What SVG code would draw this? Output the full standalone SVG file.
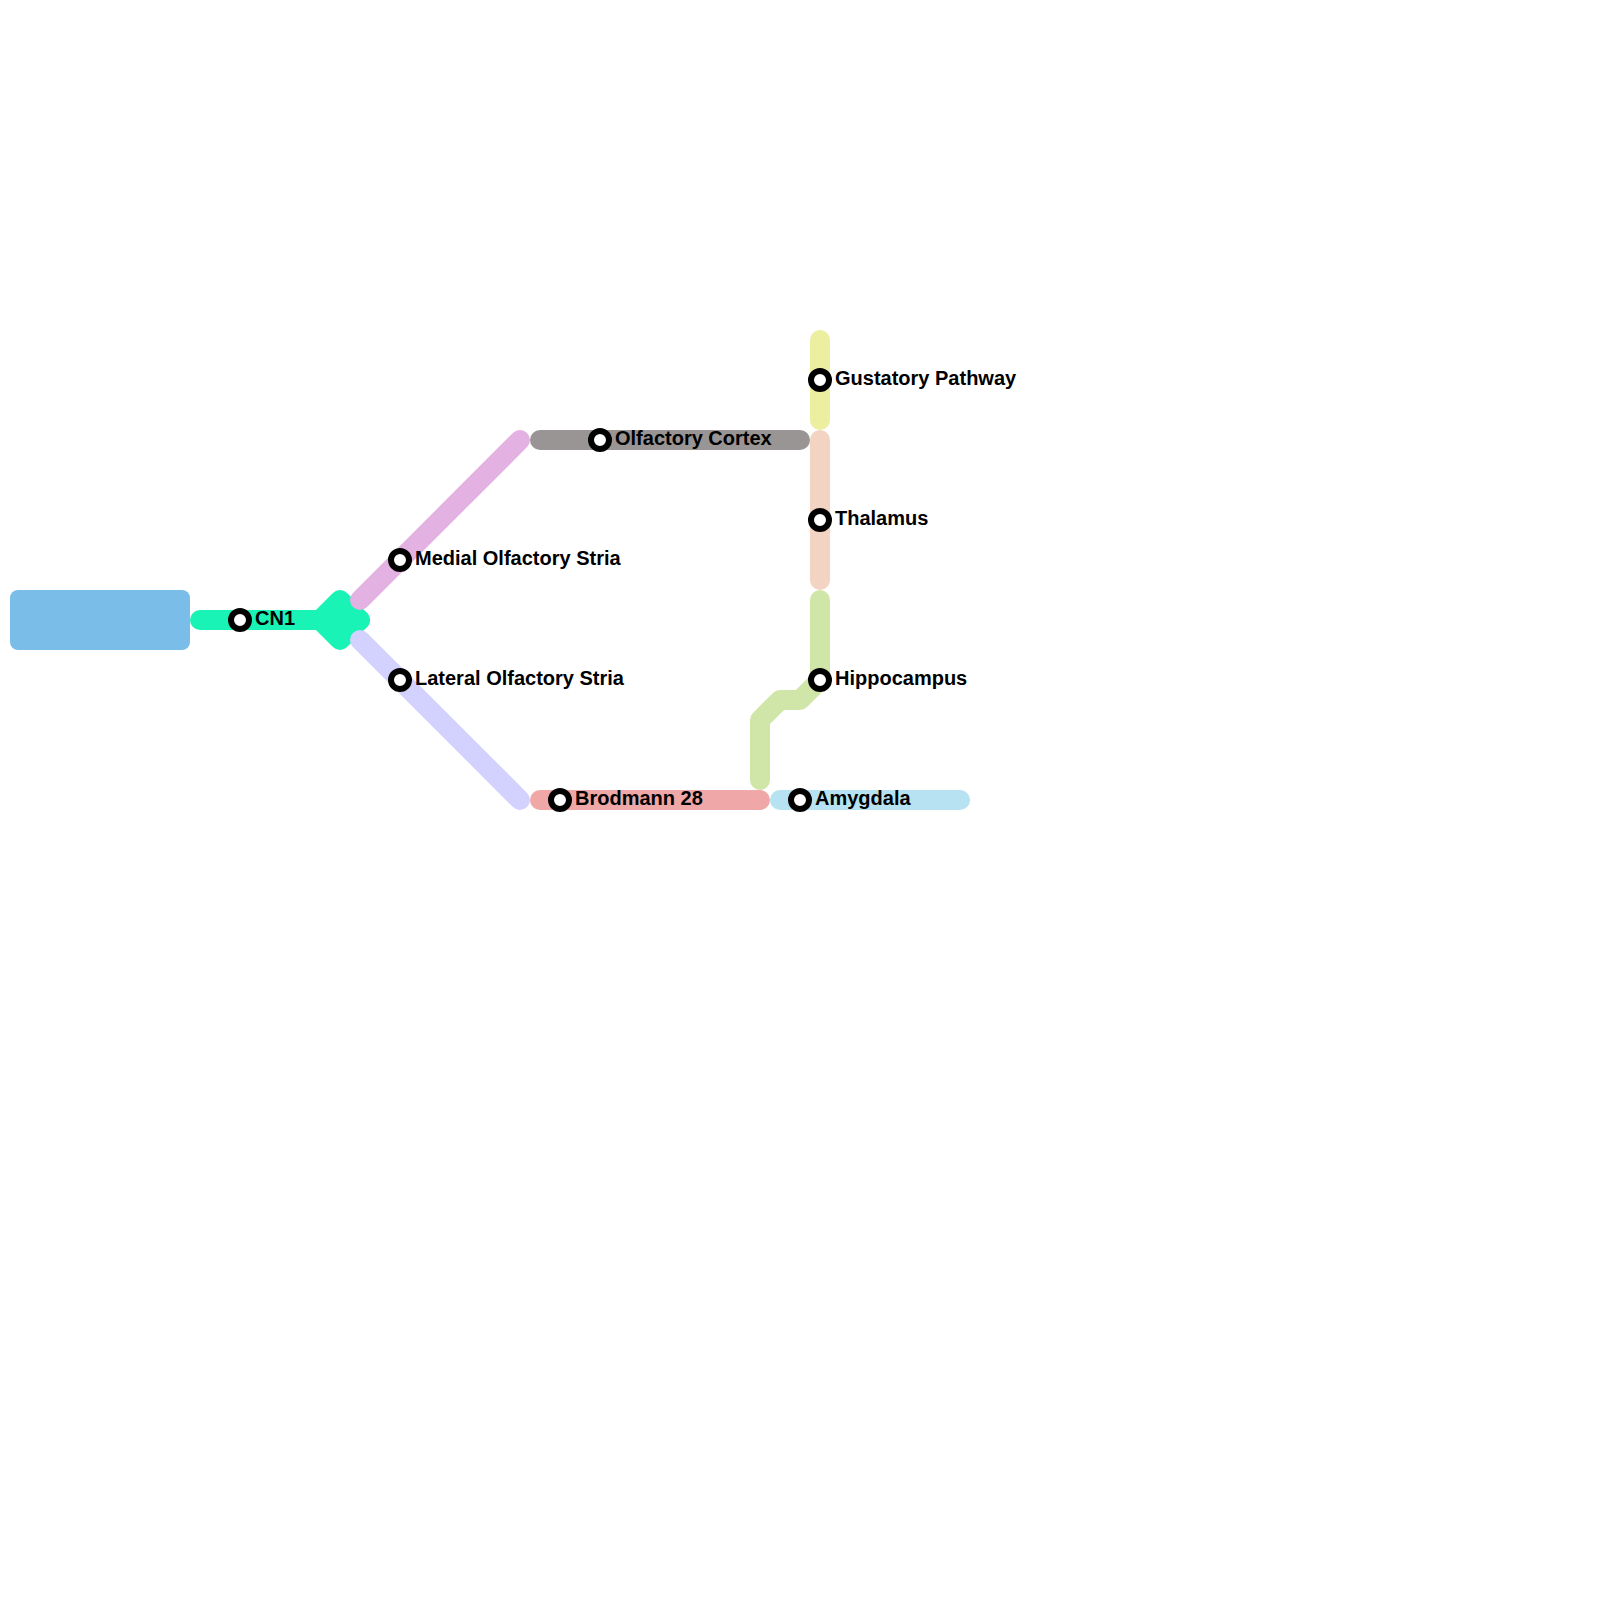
<svg xmlns="http://www.w3.org/2000/svg" width="1600" height="1600" viewBox="0 0 1600 1600">
<style>
.l{fill:none;stroke-width:20;stroke-linecap:round;stroke-linejoin:round}
.s{fill:#fff;stroke:#000;stroke-width:6}
.t{font-family:"Liberation Sans",Arial,sans-serif;font-weight:700;font-size:20px;fill:#000}
</style>
<rect width="1600" height="1600" fill="#fff"/>
<g id="connectors">
<path class="l" stroke="#19f3b6" style="fill:#19f3b6" d="M340 600L320 620L340 640L360 620Z"/>
<path class="l" stroke="#19f3b6" d="M200 620H360"/>
<path class="l" stroke="#e3b1e2" d="M360 600L520 440"/>
<path class="l" stroke="#d3d1fd" d="M360 640L520 800"/>
<path class="l" stroke="#989594" d="M540 440H800"/>
<path class="l" stroke="#ebef9f" d="M820 340V420"/>
<path class="l" stroke="#f3d3c2" d="M820 440V580"/>
<path class="l" stroke="#d0e6a9" d="M820 600V680L800 700H780L760 720V780"/>
<path class="l" stroke="#efa7a7" d="M540 800H760"/>
<path class="l" stroke="#b6e2f2" d="M780 800H960"/>
</g>
<g id="source"><rect x="10" y="590" width="180" height="60" rx="8" fill="#7abde9"/></g>
<g id="cn1"><circle class="s" cx="240" cy="620" r="9"/><text class="t" x="255" y="625">CN1</text></g>
<g id="medial"><circle class="s" cx="400" cy="560" r="9"/><text class="t" x="415" y="565">Medial Olfactory Stria</text></g>
<g id="lateral"><circle class="s" cx="400" cy="680" r="9"/><text class="t" x="415" y="685">Lateral Olfactory Stria</text></g>
<g id="cortex"><circle class="s" cx="600" cy="440" r="9"/><text class="t" x="615" y="445">Olfactory Cortex</text></g>
<g id="gustatory"><circle class="s" cx="820" cy="380" r="9"/><text class="t" x="835" y="385">Gustatory Pathway</text></g>
<g id="thalamus"><circle class="s" cx="820" cy="520" r="9"/><text class="t" x="835" y="525">Thalamus</text></g>
<g id="hippocampus"><circle class="s" cx="820" cy="680" r="9"/><text class="t" x="835" y="685">Hippocampus</text></g>
<g id="brodmann"><circle class="s" cx="560" cy="800" r="9"/><text class="t" x="575" y="805">Brodmann 28</text></g>
<g id="amygdala"><circle class="s" cx="800" cy="800" r="9"/><text class="t" x="815" y="805">Amygdala</text></g>
</svg>
